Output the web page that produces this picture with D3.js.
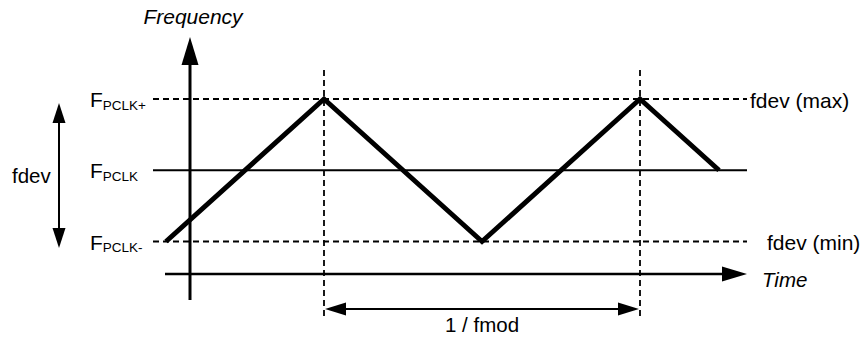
<!DOCTYPE html>
<html>
<head>
<meta charset="utf-8">
<script src="https://cdn.jsdelivr.net/npm/d3@7"></script>
<style>
  html, body { margin: 0; padding: 0; background: #fff; }
  svg text { font-family: "Liberation Sans", Arial, Helvetica, sans-serif; fill: #000; }
</style>
</head>
<body>
<div id="chart"></div>
<script>
// time in periods of 1/fmod, frequency normalised to fdev
var waveTime = [0, 0.5, 1, 1.5, 1.75];
var waveFreq = [-1, 1, -1, 1, 0];
var levels = [
  { value: 1, sub: 'PCLK+', right: 'fdev (max)', rightX: 750, dashed: true },
  { value: 0, sub: 'PCLK', right: null, dashed: false },
  { value: -1, sub: 'PCLK-', right: 'fdev (min)', rightX: 767, dashed: true }
];
var markerTimes = [0.5, 1.5];
var periodLabel = '1 / fmod';

(function () {
  var width = 862;
  var height = 338;

  var x = d3.scaleLinear().domain([0, 1]).range([166, 482]);
  var y = d3.scaleLinear().domain([-1, 1]).range([241.5, 99]);

  var axisX = x.invert(190);       // where the frequency axis sits
  var timeY = y.invert(274);       // where the time axis sits
  var lineStart = 153;
  var lineEnd = 747;

  var svg = d3.select('#chart').append('svg')
      .attr('width', width)
      .attr('height', height);

  var arrowHead = function (tipX, tipY, dir, len, half) {
    // dir: 'up', 'down', 'left', 'right'
    var p;
    if (dir === 'up') p = [[tipX, tipY], [tipX - half, tipY + len], [tipX + half, tipY + len]];
    if (dir === 'down') p = [[tipX, tipY], [tipX - half, tipY - len], [tipX + half, tipY - len]];
    if (dir === 'left') p = [[tipX, tipY], [tipX + len, tipY - half], [tipX + len, tipY + half]];
    if (dir === 'right') p = [[tipX, tipY], [tipX - len, tipY - half], [tipX - len, tipY + half]];
    svg.append('path')
        .attr('d', 'M' + p.join('L') + 'Z')
        .attr('fill', '#000');
  };

  // level lines
  svg.selectAll('line.level').data(levels).enter().append('line')
      .attr('class', 'level')
      .attr('x1', lineStart)
      .attr('x2', lineEnd)
      .attr('y1', function (d) { return y(d.value); })
      .attr('y2', function (d) { return y(d.value); })
      .attr('stroke', '#000')
      .attr('stroke-width', function (d) { return d.dashed ? 1.8 : 2; })
      .attr('stroke-dasharray', function (d) { return d.dashed ? '6,4' : null; });

  // vertical dashed markers
  svg.selectAll('line.marker').data(markerTimes).enter().append('line')
      .attr('class', 'marker')
      .attr('x1', function (d) { return x(d); })
      .attr('x2', function (d) { return x(d); })
      .attr('y1', 70)
      .attr('y2', 320)
      .attr('stroke', '#000')
      .attr('stroke-width', 1.8)
      .attr('stroke-dasharray', '6,4');

  // frequency axis
  svg.append('line')
      .attr('x1', x(axisX)).attr('x2', x(axisX))
      .attr('y1', 300).attr('y2', 60)
      .attr('stroke', '#000')
      .attr('stroke-width', 3);
  arrowHead(x(axisX), 37, 'up', 28, 8.5);

  // time axis
  svg.append('line')
      .attr('x1', 165).attr('x2', 728)
      .attr('y1', y(timeY)).attr('y2', y(timeY))
      .attr('stroke', '#000')
      .attr('stroke-width', 2.5);
  arrowHead(lineEnd, y(timeY), 'right', 25, 7.5);

  // triangle wave
  var line = d3.line()
      .x(function (d, i) { return x(waveTime[i]); })
      .y(function (d, i) { return y(waveFreq[i]); });
  svg.append('path')
      .attr('d', line(waveTime))
      .attr('fill', 'none')
      .attr('stroke', '#000')
      .attr('stroke-width', 5)
      .attr('stroke-linejoin', 'miter');

  // fdev span arrow on the left
  svg.append('line')
      .attr('x1', 59).attr('x2', 59)
      .attr('y1', 115).attr('y2', 236)
      .attr('stroke', '#000')
      .attr('stroke-width', 2);
  arrowHead(59, 103, 'up', 20, 6.5);
  arrowHead(59, 248, 'down', 20, 6.5);

  svg.append('text')
      .attr('x', 12)
      .attr('y', 183)
      .attr('font-size', 20.5)
      .text('fdev');

  // period dimension
  var py = 309;
  svg.append('line')
      .attr('x1', x(markerTimes[0]) + 10).attr('x2', x(markerTimes[1]) - 10)
      .attr('y1', py).attr('y2', py)
      .attr('stroke', '#000')
      .attr('stroke-width', 2);
  arrowHead(x(markerTimes[0]) + 1, py, 'left', 21, 6.5);
  arrowHead(x(markerTimes[1]) - 1, py, 'right', 21, 6.5);

  svg.append('text')
      .attr('x', (x(markerTimes[0]) + x(markerTimes[1])) / 2)
      .attr('y', 332)
      .attr('text-anchor', 'middle')
      .attr('font-size', 20.5)
      .text(periodLabel);

  // level labels
  var labels = svg.selectAll('text.flabel').data(levels).enter().append('text')
      .attr('class', 'flabel')
      .attr('x', 90)
      .attr('y', function (d) { return y(d.value) + 8; })
      .attr('font-size', 21);
  labels.append('tspan').text('F');
  labels.append('tspan')
      .attr('font-size', 13.5)
      .attr('dy', 2.5)
      .text(function (d) { return d.sub; });

  svg.selectAll('text.rlabel').data(levels.filter(function (d) { return d.right; }))
      .enter().append('text')
      .attr('class', 'rlabel')
      .attr('x', function (d) { return d.rightX; })
      .attr('y', function (d) { return y(d.value) + 8.5; })
      .attr('font-size', 21)
      .text(function (d) { return d.right; });

  // axis titles
  svg.append('text')
      .attr('x', 193)
      .attr('y', 24)
      .attr('text-anchor', 'middle')
      .attr('font-size', 21)
      .attr('font-style', 'italic')
      .text('Frequency');

  svg.append('text')
      .attr('x', 762)
      .attr('y', 287)
      .attr('font-size', 20.5)
      .attr('font-style', 'italic')
      .text('Time');
})();
</script>
</body>
</html>
